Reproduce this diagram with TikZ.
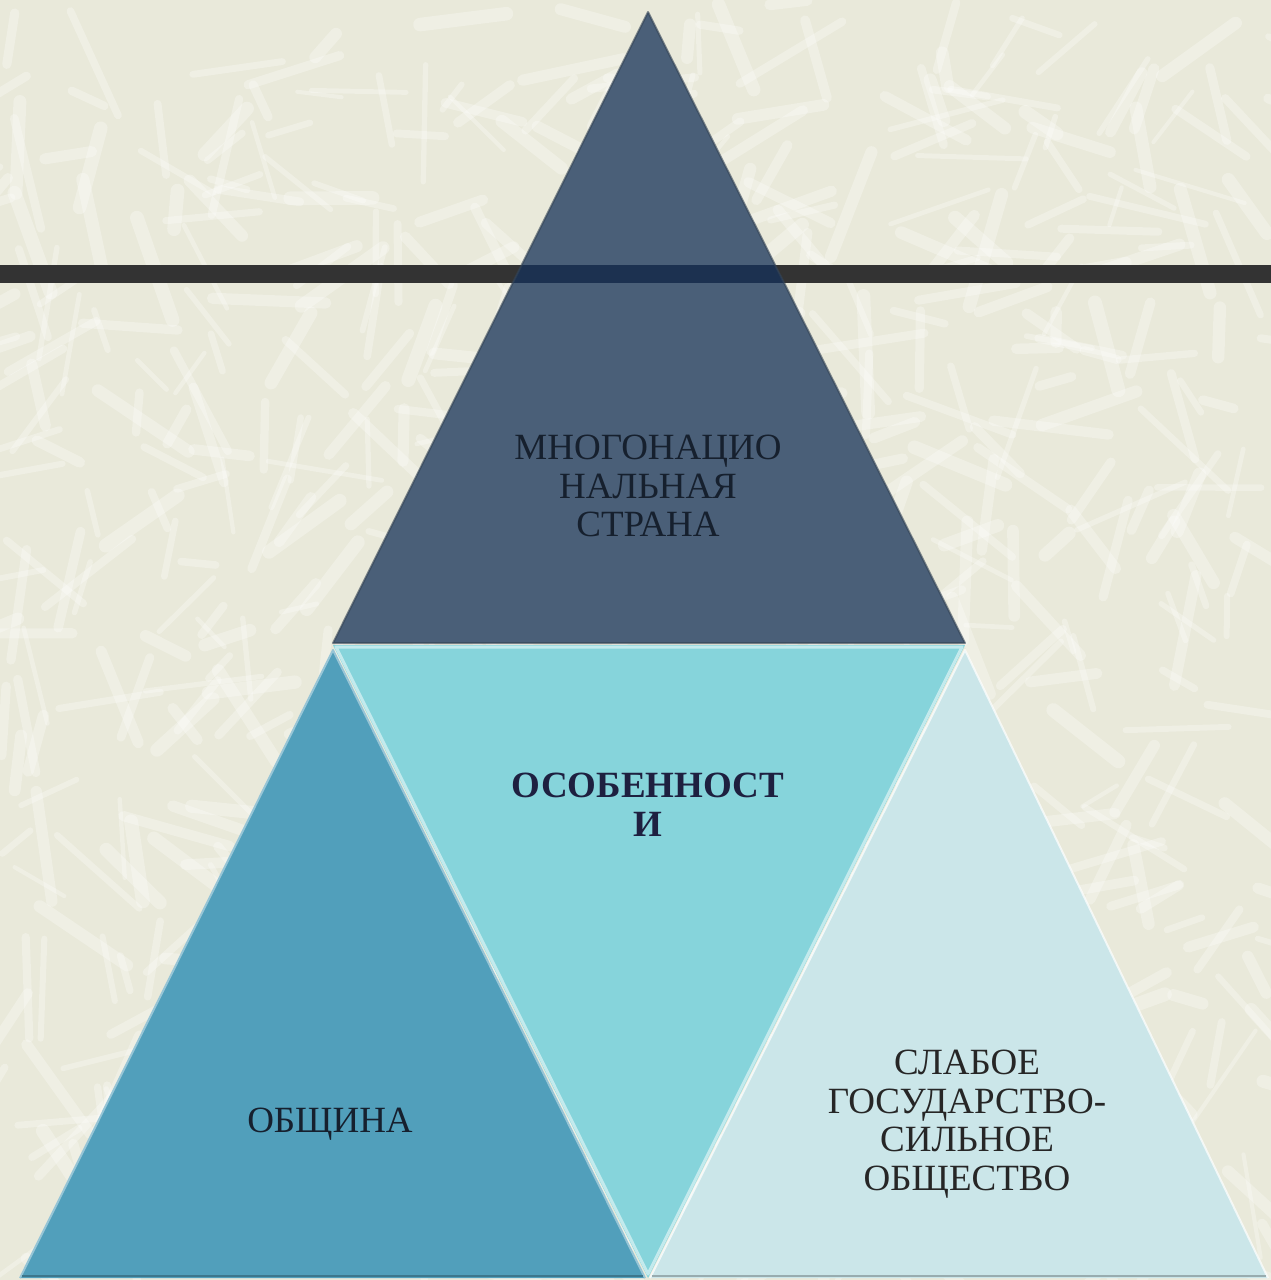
\documentclass[tikz,border=0pt]{standalone}
\usepackage{fontspec}
\setmainfont{Liberation Serif}
\definecolor{bgc}{HTML}{E9E9DA}
\definecolor{barc}{HTML}{333333}
\definecolor{topc}{HTML}{4A5F78}
\definecolor{overlapc}{HTML}{15294A}
\definecolor{midc}{HTML}{86D4DB}
\definecolor{leftc}{HTML}{519FBB}
\definecolor{rightc}{HTML}{CBE6E9}
\definecolor{txtdark}{HTML}{16202E}
\definecolor{boldc}{HTML}{1E2040}
\tikzset{
  lbl/.style={font=\fontsize{37}{38.5}\selectfont, align=center, inner sep=0pt},
  tri/.style={line join=round}
}
\begin{document}
\begin{tikzpicture}[x=1pt,y=-1pt]
\useasboundingbox (0,0) rectangle (1271,1280);
% background with texture
\fill[bgc] (0,0) rectangle (1271,1280);
\begin{scope}
\clip (0,0) rectangle (1271,1280);
\pgfmathsetseed{7}
\foreach \i in {1,...,700}{
  \pgfmathsetmacro\px{rnd*1271}
  \pgfmathsetmacro\py{rnd*1280}
  \pgfmathsetmacro\ang{rnd*180}
  \pgfmathsetmacro\len{30+rnd*90}
  \pgfmathsetmacro\lw{4+rnd*10}
  \draw[white, opacity=0.28, line width=\lw pt, line cap=round]
    (\px,\py) -- ++(\ang:\len);
}
\end{scope}
% horizontal bar
\fill[barc] (0,265) rectangle (1271,283);
% vertices
\coordinate (A) at (648,12);
\coordinate (B) at (333,643);
\coordinate (C) at (965,643);
\coordinate (D) at (648,1278);
% top triangle
\fill[topc, tri] (A) -- (B) -- (C) -- cycle;
\begin{scope}
\clip (A) -- (B) -- (C) -- cycle;
\fill[overlapc, opacity=0.85] (0,265) rectangle (1271,283);
\end{scope}
\draw[topc!70!black, opacity=0.6, line width=2pt, tri] (A) -- (B) -- (C) -- cycle;
% left triangle
\fill[leftc, tri] (333,650) -- (20,1278) -- (645,1278) -- cycle;
\draw[leftc!60!white, line width=2pt, tri] (20,1278) -- (333,650) -- (645,1278);
\draw[leftc!75!black, line width=2pt] (22,1276) -- (643,1276);
% right triangle
\fill[rightc, tri] (965,650) -- (650,1278) -- (1268,1278) -- cycle;
\draw[white, opacity=0.7, line width=2pt, tri] (650,1278) -- (965,650) -- (1268,1278);
\draw[rightc!75!black, line width=2pt] (652,1276) -- (1266,1276);
% middle inverted triangle
\fill[midc, tri] (333,645) -- (965,645) -- (D) -- cycle;
\draw[midc!50!white, line width=3pt, tri] (336,647) -- (962,647) -- (648,1274) -- cycle;
% texts
\node[lbl, text=txtdark] (t1) at (648,486) {МНОГОНАЦИО\\НАЛЬНАЯ\\СТРАНА};
\node[lbl, text=boldc, font=\fontsize{37}{39}\selectfont\bfseries] (t2) at (648,805) {ОСОБЕННОСТ\\И};
\node[lbl, text=txtdark] (t3) at (330,1124) {ОБЩИНА};
\node[lbl, text=black!85] (t4) at (967,1124) {СЛАБОЕ\\ГОСУДАРСТВО-\\СИЛЬНОЕ\\ОБЩЕСТВО};
\end{tikzpicture}
\end{document}
